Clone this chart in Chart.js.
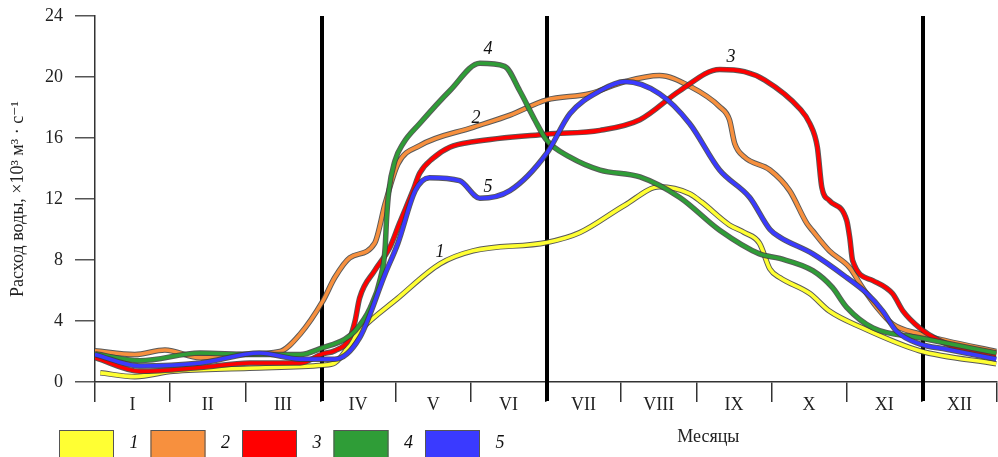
<!DOCTYPE html>
<html>
<head>
<meta charset="utf-8">
<script src="https://cdn.jsdelivr.net/npm/chart.js@4/dist/chart.umd.min.js"></script>
<style>
  html, body { margin: 0; padding: 0; background: #fff; }
  #wrap { position: relative; width: 998px; height: 457px; }
</style>
</head>
<body>
<div id="wrap"><canvas id="flowChart"></canvas></div>
<script>
// month labels (roman numerals)
const monthLabels = ['I', 'II', 'III', 'IV', 'V', 'VI', 'VII', 'VIII', 'IX', 'X', 'XI', 'XII'];
const seriesNames = ['1', '2', '3', '4', '5'];
const seriesColors = ['#ffff33', '#f7903e', '#ff0000', '#2f9d37', '#3a3aff'];
// season boundaries (months)
const seasonBreaks = [3, 6, 11];

// water discharge, x10^3 m3/s ; position in months from start of year
const s1Month = [0.07, 0.53, 1.04, 2.05, 3.03, 3.19, 3.52, 4.03, 4.59, 5.03, 6.01, 6.45, 7.05, 7.51, 7.91, 8.07, 8.44, 8.64, 8.84, 8.98, 9.11, 9.51, 9.77, 10.21, 10.97, 11.99];
const s1Flow  = [0.6, 0.35, 0.7, 0.9, 1.1, 1.25, 3.35, 5.5, 7.75, 8.6, 9.15, 9.8, 11.6, 12.8, 12.35, 11.8, 10.3, 9.8, 9.1, 7.4, 6.85, 5.8, 4.65, 3.55, 2.05, 1.2];

const s2Month = [0, 0.53, 0.93, 1.4, 1.93, 2.46, 2.73, 3.03, 3.19, 3.39, 3.72, 3.86, 4.03, 4.32, 5.03, 5.52, 6.01, 6.58, 7.05, 7.51, 7.91, 8.31, 8.44, 8.51, 8.64, 8.98, 9.24, 9.47, 9.55, 9.77, 10.04, 10.21, 10.40, 10.61, 10.97, 11.33, 11.99];
const s2Flow  = [2.05, 1.8, 2.1, 1.6, 1.8, 2.0, 3.15, 5.3, 6.85, 8.15, 9.1, 11.7, 14.3, 15.5, 16.7, 17.5, 18.5, 18.9, 19.7, 20.1, 19.4, 18.05, 17.2, 15.65, 14.75, 13.9, 12.55, 10.4, 9.9, 8.6, 7.5, 6.2, 4.9, 3.8, 3.15, 2.7, 2.0];

const s3Month = [0, 0.6, 1.4, 2.06, 2.73, 3.03, 3.19, 3.39, 3.46, 3.52, 3.72, 3.92, 4.05, 4.23, 4.32, 4.49, 4.72, 5.03, 6.01, 6.72, 7.25, 7.78, 8.31, 8.64, 8.91, 9.38, 9.51, 9.61, 9.67, 9.77, 10.0, 10.04, 10.08, 10.35, 10.61, 10.75, 10.97, 11.24, 11.6, 11.99];
const s3Flow  = [1.6, 0.7, 0.95, 1.25, 1.25, 1.85, 2.05, 2.9, 4.0, 5.5, 7.3, 8.8, 10.4, 12.55, 13.7, 14.65, 15.4, 15.75, 16.25, 16.5, 17.2, 19.1, 20.5, 20.35, 19.8, 17.9, 16.95, 15.4, 12.75, 11.9, 10.6, 9.5, 7.95, 6.65, 5.8, 4.65, 3.55, 2.7, 2.05, 1.8];

const s4Month = [0, 0.6, 1.4, 2.06, 2.73, 3.03, 3.32, 3.46, 3.66, 3.8, 3.86, 3.88, 3.91, 3.99, 4.1, 4.32, 4.72, 5.12, 5.45, 5.65, 5.85, 6.01, 6.32, 6.72, 7.25, 7.78, 8.31, 8.84, 9.11, 9.55, 9.81, 10.0, 10.35, 10.97, 11.99];
const s4Flow  = [1.85, 1.4, 1.9, 1.8, 1.8, 2.25, 2.8, 3.35, 4.85, 6.85, 8.8, 10.8, 12.55, 14.5, 15.65, 16.95, 19.1, 20.9, 20.7, 19.1, 17.2, 15.85, 14.75, 13.9, 13.45, 12.1, 9.95, 8.4, 8.1, 7.3, 6.2, 4.9, 3.55, 2.9, 1.9];

const s5Month = [0, 0.6, 1.4, 2.19, 2.73, 3.03, 3.19, 3.52, 3.86, 4.03, 4.26, 4.45, 4.85, 5.12, 5.52, 6.01, 6.32, 6.72, 7.05, 7.51, 7.91, 8.31, 8.71, 8.98, 9.11, 9.55, 10.0, 10.27, 10.48, 10.66, 10.97, 11.33, 11.99];
const s5Flow  = [1.8, 1.05, 1.25, 1.9, 1.5, 1.5, 1.5, 2.9, 7.1, 9.1, 12.55, 13.4, 13.2, 12.05, 12.55, 15.0, 17.6, 19.1, 19.7, 18.9, 16.95, 13.9, 12.1, 10.0, 9.5, 8.4, 6.85, 5.8, 4.65, 3.35, 2.5, 2.15, 1.5];

// where the italic curve numbers sit (month, flow)
const tagMonth = [4.59, 5.07, 8.46, 5.23, 5.23];
const tagFlow  = [8.5, 17.3, 21.3, 21.8, 12.8];

const allMonths = [s1Month, s2Month, s3Month, s4Month, s5Month];
const allFlows = [s1Flow, s2Flow, s3Flow, s4Flow, s5Flow];

const serif = "'Liberation Serif', 'DejaVu Serif', serif";

const datasets = [];
allFlows.forEach((flows, i) => {
  const pts = flows.map((v, j) => ({ x: allMonths[i][j], y: v }));
  const base = {
    data: pts,
    xAxisID: 'x',
    yAxisID: 'y',
    pointRadius: 0,
    cubicInterpolationMode: 'monotone',
    fill: false,
  };
  // thin dark rim under each coloured line
  datasets.push(Object.assign({}, base, {
    label: 'rim' + seriesNames[i],
    borderColor: 'rgba(60,60,60,0.85)',
    borderWidth: 5.5,
    order: 20 - i * 2,
  }));
  datasets.push(Object.assign({}, base, {
    label: seriesNames[i],
    borderColor: seriesColors[i],
    borderWidth: 3.6,
    order: 19 - i * 2,
  }));
});

const decor = {
  id: 'decor',
  beforeDatasetsDraw(chart) {
    const { ctx, chartArea, scales } = chart;
    ctx.save();
    ctx.strokeStyle = '#000';
    ctx.lineWidth = 4;
    seasonBreaks.forEach(m => {
      const px = Math.round(scales.x.getPixelForValue(m)) + 1;
      ctx.beginPath();
      ctx.moveTo(px, chartArea.top);
      ctx.lineTo(px, chartArea.bottom + 19);
      ctx.stroke();
    });
    ctx.restore();
  },
  afterDatasetsDraw(chart) {
    const { ctx, scales } = chart;
    ctx.save();
    ctx.fillStyle = '#111';
    ctx.font = 'italic 18px ' + serif;
    ctx.textAlign = 'center';
    ctx.textBaseline = 'middle';
    seriesNames.forEach((n, i) => {
      ctx.fillText(n, scales.x.getPixelForValue(tagMonth[i]), scales.y.getPixelForValue(tagFlow[i]));
    });
    ctx.restore();
  },
  afterDraw(chart) {
    const { ctx, chartArea } = chart;
    ctx.save();
    // legend
    const top = 430;
    seriesNames.forEach((n, i) => {
      const x0 = 59 + i * 91.5;
      ctx.fillStyle = seriesColors[i];
      ctx.fillRect(x0, top, 55, 28);
      ctx.strokeStyle = '#555';
      ctx.lineWidth = 1;
      ctx.strokeRect(x0 + 0.5, top + 0.5, 54, 28);
      ctx.fillStyle = '#111';
      ctx.font = 'italic 18px ' + serif;
      ctx.textAlign = 'center';
      ctx.textBaseline = 'middle';
      ctx.fillText(n, x0 + 75, top + 13);
    });
    // axis name
    ctx.font = '18px ' + serif;
    ctx.fillStyle = '#222';
    ctx.textAlign = 'center';
    ctx.textBaseline = 'middle';
    ctx.fillText('Месяцы', chartArea.left + (chartArea.right - chartArea.left) * 0.68, 437);
    ctx.restore();
  }
};

new Chart(document.getElementById('flowChart').getContext('2d'), {
  type: 'line',
  data: { datasets: datasets },
  plugins: [decor],
  options: {
    responsive: true,
    maintainAspectRatio: false,
    animation: false,
    devicePixelRatio: 1,
    layout: { padding: { top: 16, right: 1, bottom: 0, left: 0 } },
    plugins: {
      legend: { display: false },
      tooltip: { enabled: false },
    },
    scales: {
      x: {
        type: 'linear',
        min: 0,
        max: 12,
        display: false,
      },
      months: {
        type: 'category',
        position: 'bottom',
        labels: monthLabels,
        offset: true,
        grid: {
          offset: true,
          drawOnChartArea: false,
          drawTicks: true,
          tickLength: 20,
          color: '#333',
          lineWidth: 1.5,
        },
        border: { display: true, color: '#333', width: 1.5 },
        ticks: {
          font: { family: serif, size: 18 },
          color: '#222',
          padding: -8,
          maxRotation: 0,
          autoSkip: false,
        },
        afterFit(scale) { scale.height = 75; },
      },
      y: {
        min: 0,
        max: 24,
        ticks: {
          stepSize: 4,
          font: { family: serif, size: 18 },
          color: '#222',
          padding: 12,
        },
        grid: {
          drawOnChartArea: false,
          drawTicks: true,
          tickLength: 20,
          color: '#555',
          lineWidth: 1.5,
        },
        border: { display: true, color: '#333', width: 1.5 },
        title: {
          display: true,
          text: 'Расход воды, ×10³ м³ · с⁻¹',
          font: { family: serif, size: 18 },
          color: '#222',
          padding: { top: 7, bottom: 0 },
        },
        afterFit(scale) {
          scale.width = 95;
          scale.paddingTop = 0;
          scale.paddingBottom = 0;
        },
      },
    },
  },
});
</script>
</body>
</html>
